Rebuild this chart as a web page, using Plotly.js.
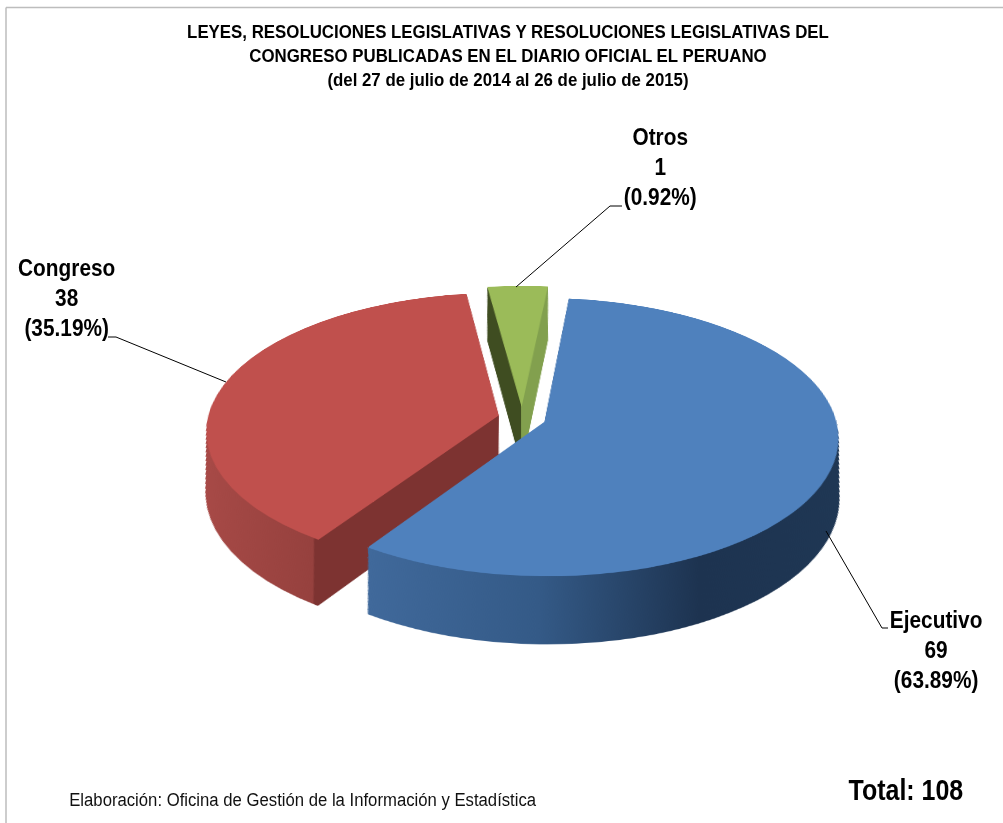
<!DOCTYPE html>
<html><head><meta charset="utf-8">
<script src="https://cdn.plot.ly/plotly-3.0.1.min.js"></script>
<style>html,body{margin:0;padding:0;background:#fff;overflow:hidden}#chart{width:1003px;height:823px}</style>
</head><body><div id="chart"></div>
<script>
// Labels as printed on the chart
const categories = ['Ejecutivo', 'Congreso', 'Otros'];
const counts = [69, 38, 1];
const percents = ['63.89%', '35.19%', '0.92%'];
// Share of the circle each slice occupies as drawn in the picture
const drawnShares = [57.8, 38.48, 3.72];
const topColors = ['#4F81BD', '#C0504D', '#9BBB59'];
const titleLines = ['LEYES, RESOLUCIONES LEGISLATIVAS Y RESOLUCIONES LEGISLATIVAS DEL',
  'CONGRESO PUBLICADAS EN EL DIARIO OFICIAL EL PERUANO',
  '(del 27 de julio de 2014 al 26 de julio de 2015)'];
const sourceNote = 'Elaboración: Oficina de Gestión de la Información y Estadística';
const totalNote = 'Total: 108';

const W = 1003, H = 823, FONT = '"Liberation Sans",Arial,sans-serif';
const PULL = 0.082, R = 291, CX = 522, PLANE_CY = 327, SCREEN_CY = 418;
const LAYERS = 61, STEP = 2;           // extrusion below the pie plane
const half = R * (1 + PULL);
const px = v => v / W, py = v => 1 - v / H;

const traces = [];
for (let i = LAYERS; i >= 0; i--) {
  const off = i * STEP, h = half / (1 + off * 0.000376);
  traces.push({
    type: 'pie', values: drawnShares, labels: categories, sort: false, direction: 'clockwise',
    rotation: 5.8, pull: PULL, textinfo: 'none', hoverinfo: 'none', showlegend: false,
    marker: { colors: i ? ['#1F3652', '#7D3331', '#3F4D21'] : topColors, line: { width: 0 } },
    domain: { x: [px(CX - h), px(CX + h)], y: [py(PLANE_CY + h + off), py(PLANE_CY - h + off)] }
  });
}

const labelAnn = (i, x, y) => ({
  xref: 'paper', yref: 'paper', x: px(x), y: py(y), xanchor: 'center', yanchor: 'middle', showarrow: false,
  text: '<b>' + categories[i] + '</b><br><b>' + counts[i] + '</b><br><b>(' + percents[i] + ')</b>',
  align: 'center', font: { family: FONT, size: 23, color: '#000' }
});
const line = (x0, y0, x1, y1, color, width) => ({
  type: 'line', layer: 'above', xref: 'paper', yref: 'paper',
  x0: px(x0), y0: py(y0), x1: px(x1), y1: py(y1), line: { color: color || '#000', width: width || 1 }
});

const layout = {
  width: W, height: H, margin: { l: 0, r: 0, t: 0, b: 0 }, paper_bgcolor: 'rgba(0,0,0,0)', showlegend: false,
  title: { text: titleLines.join('<br>'), x: 508 / W, xanchor: 'center', y: 1 - 38 / H, yanchor: 'top',
    font: { family: FONT, size: 18, color: '#000', weight: 'bold' } },
  annotations: [
    labelAnn(0, 936, 650), labelAnn(1, 66, 298), labelAnn(2, 660, 167),
    { xref: 'paper', yref: 'paper', x: px(302.5), y: py(800), xanchor: 'center', yanchor: 'middle', showarrow: false,
      text: sourceNote, font: { family: FONT, size: 18, color: '#111' } },
    { xref: 'paper', yref: 'paper', x: px(906), y: py(789), xanchor: 'center', yanchor: 'middle', showarrow: false,
      text: '<b>' + totalNote + '</b>', font: { family: FONT, size: 30, color: '#000' } }
  ],
  shapes: [
    line(6, 7.5, 1003, 7.5, '#BDBDBD', 1.5), line(6, 7.5, 6, 823, '#BDBDBD', 1.5),
    line(516, 287, 610, 206), line(610, 206, 622, 206),
    line(226, 382, 116, 337), line(116, 337, 108, 337),
    line(826, 531, 882, 628), line(882, 628, 888, 628)
  ]
};

function gradient(defs, id, stops) {
  const NS = 'http://www.w3.org/2000/svg';
  const g = document.createElementNS(NS, 'linearGradient');
  g.setAttribute('id', id); g.setAttribute('x1', '0'); g.setAttribute('x2', '1'); g.setAttribute('y1', '0'); g.setAttribute('y2', '0');
  stops.forEach(s => {
    const st = document.createElementNS(NS, 'stop');
    st.setAttribute('offset', s[0]); st.setAttribute('stop-color', s[1]); g.appendChild(st);
  });
  defs.appendChild(g);
}
// The reference type is a condensed face: narrow each text about its own centre.
function condense(el, s) {
  const b = el.getBBox(), c = b.x + b.width / 2, prev = el.getAttribute('transform') || '';
  el.setAttribute('transform', prev + ' translate(' + c + ',0) scale(' + s + ',1) translate(' + (-c) + ',0)');
}

Plotly.newPlot('chart', traces, layout, { staticPlot: true, displayModeBar: false }).then(gd => {
  const svg = gd.querySelector('.main-svg');
  const defs = svg.querySelector('defs');
  gradient(defs, 'wallB', [[0, '#40699B'], [0.34, '#345A87'], [0.66, '#1D3350'], [1, '#1F3754']]);
  gradient(defs, 'wallR', [[0, '#A84A47'], [0.425, '#96413E'], [0.43, '#7D3331'], [1, '#7D3331']]);
  gradient(defs, 'wallG', [[0, '#3F4D21'], [0.56, '#3F4D21'], [0.565, '#82A04E'], [1, '#82A04E']]);
  const ids = ['wallB', 'wallR', 'wallG'];
  const tr = gd.querySelectorAll('.pielayer .trace');
  tr.forEach((t, k) => {
    if (k === tr.length - 1) return;
    t.querySelectorAll('path.surface').forEach((p, j) => { p.style.fill = 'url(#' + ids[j] + ')'; });
  });
  svg.style.transformOrigin = CX + 'px ' + PLANE_CY + 'px';
  svg.style.transform = 'translateY(' + (SCREEN_CY - PLANE_CY) + 'px) perspective(2340px) rotateX(62deg)';
  gd.querySelectorAll('.gtitle tspan.line').forEach((t, i) => { t.setAttribute('dy', (i * 24) + 'px'); });
  condense(gd.querySelector('.gtitle'), 0.936);
  const ann = gd.querySelectorAll('.annotation-text');
  [0.906, 0.906, 0.906, 0.928, 0.833].forEach((s, i) => condense(ann[i], s));
});
</script></body></html>
